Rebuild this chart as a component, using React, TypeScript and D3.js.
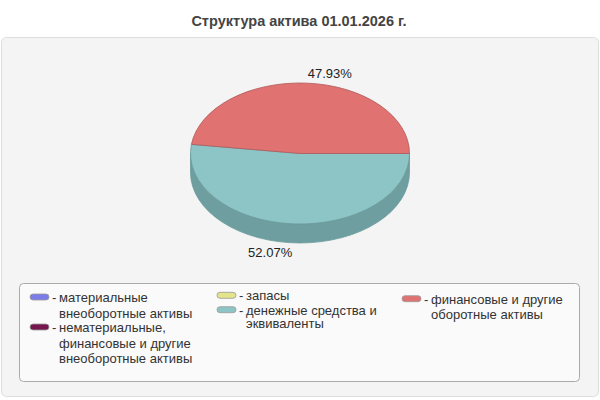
import * as d3 from "d3";
import React from "react";

// chart data
const title = "Структура актива 01.01.2026 г.";
const categories = [
  "материальные внеоборотные активы",
  "нематериальные, финансовые и другие внеоборотные активы",
  "запасы",
  "денежные средства и эквиваленты",
  "финансовые и другие оборотные активы",
];
const values = [0, 0, 0, 52.07, 47.93];
const colors = ["#7b7bea", "#76164f", "#e4e48c", "#8dc5c6", "#e07272"];
const sideColors = ["#5c5cb0", "#58103b", "#abab69", "#6e9e9f", "#a85555"];
const strokeColors = ["#5a5ab0", "#50103a", "#a8a860", "#6a9a9a", "#b05858"];
// wrapped legend lines
const legendLines = [
  ["материальные", "внеоборотные активы"],
  ["нематериальные,", "финансовые и другие", "внеоборотные активы"],
  ["запасы"],
  ["денежные средства и", "эквиваленты"],
  ["финансовые и другие", "оборотные активы"],
];
const legendColumn = [0, 0, 1, 1, 2];

const W = 600,
  H = 400;
const cx = 300,
  cy = 153.5,
  rx = 109.5,
  ry = 70.5,
  depth = 19;

const columns = [
  { x: 30, y0: 302, lh: 15.5, gap: -1 },
  { x: 217, y0: 300.3, lh: 13.5, gap: 0.9 },
  { x: 402, y0: 303.7, lh: 15, gap: 0 },
];

const pt = (a: number, dy = 0): [number, number] => [
  cx + rx * Math.sin(a),
  cy - ry * Math.cos(a) + dy,
];

export default function App() {
  const pie = d3
    .pie<number>()
    .sort(null)
    .startAngle(Math.PI / 2)
    .endAngle(Math.PI / 2 + 2 * Math.PI);
  const arcs = pie(values);

  const topPath = (a0: number, a1: number) => {
    const [x0, y0] = pt(a0);
    const [x1, y1] = pt(a1);
    const large = a1 - a0 > Math.PI ? 1 : 0;
    return `M${cx},${cy}L${x0},${y0}A${rx},${ry} 0 ${large} 1 ${x1},${y1}Z`;
  };

  // front side only: lower half of the ellipse
  const sidePath = (a0: number, a1: number) => {
    const paths: string[] = [];
    for (const k of [0, 2 * Math.PI]) {
      const s = Math.max(a0, Math.PI / 2 + k);
      const e = Math.min(a1, (3 * Math.PI) / 2 + k);
      if (e - s <= 1e-6) continue;
      const [x0, y0] = pt(s);
      const [x1, y1] = pt(e);
      paths.push(
        `M${x0},${y0}A${rx},${ry} 0 0 1 ${x1},${y1}L${x1},${y1 + depth}A${rx},${ry} 0 0 0 ${x0},${y0 + depth}Z`
      );
    }
    return paths.join("");
  };

  const legendItems: React.ReactNode[] = [];
  const colY = columns.map((c) => c.y0);
  categories.forEach((cat, i) => {
    const col = columns[legendColumn[i]];
    const y = colY[legendColumn[i]];
    const lines = legendLines[i];
    colY[legendColumn[i]] += lines.length * col.lh + col.gap;
    legendItems.push(
      <g key={cat}>
        <rect
          x={col.x}
          y={y - 8}
          width={19}
          height={6}
          rx={3}
          fill={colors[i]}
          stroke="#999"
          strokeWidth={0.8}
        />
        <text x={col.x + 22} y={y}>
          -
        </text>
        {lines.map((l, j) => (
          <text key={j} x={col.x + 29} y={y + j * col.lh}>
            {l}
          </text>
        ))}
      </g>
    );
  });

  return (
    <svg
      width={W}
      height={H}
      style={{ position: "absolute", left: 0, top: 0, background: "#fff" }}
      fontFamily="'Liberation Sans', Arial, sans-serif"
    >
      <text
        x={W / 2 - 1}
        y={26}
        textAnchor="middle"
        fontSize={14.5}
        fontWeight="bold"
        fill="#444"
      >
        {title}
      </text>
      <rect
        x={1.5}
        y={37.5}
        width={597}
        height={359}
        rx={5}
        fill="#f4f4f4"
        stroke="#ddd"
      />
      <g>
        {arcs.map((a, i) => (
          <path
            key={"s" + i}
            d={sidePath(a.startAngle, a.endAngle)}
            fill={sideColors[i]}
            stroke={strokeColors[i]}
            strokeWidth={0.8}
          />
        ))}
        {arcs.map((a, i) =>
          a.value > 0 ? (
            <path
              key={"t" + i}
              d={topPath(a.startAngle, a.endAngle)}
              fill={colors[i]}
              stroke={strokeColors[i]}
              strokeWidth={0.8}
            />
          ) : null
        )}
        {arcs.map((a, i) => {
          if (a.value <= 0) return null;
          const m = (a.startAngle + a.endAngle) / 2;
          const x = cx + (rx + 10) * Math.sin(m);
          const y = cy - (ry + 10) * Math.cos(m) + (Math.cos(m) < 0 ? depth : 0);
          return (
            <text
              key={"l" + i}
              x={x}
              y={y}
              dy="0.35em"
              textAnchor={Math.sin(m) >= 0 ? "start" : "end"}
              fontSize={13}
              fill="#222"
            >
              {d3.format(".2f")(a.value)}%
            </text>
          );
        })}
      </g>
      <rect
        x={19.5}
        y={283.5}
        width={560}
        height={98}
        rx={4}
        fill="#fafafa"
        stroke="#aaa"
      />
      <g fontSize={13} fill="#333">
        {legendItems}
      </g>
    </svg>
  );
}
